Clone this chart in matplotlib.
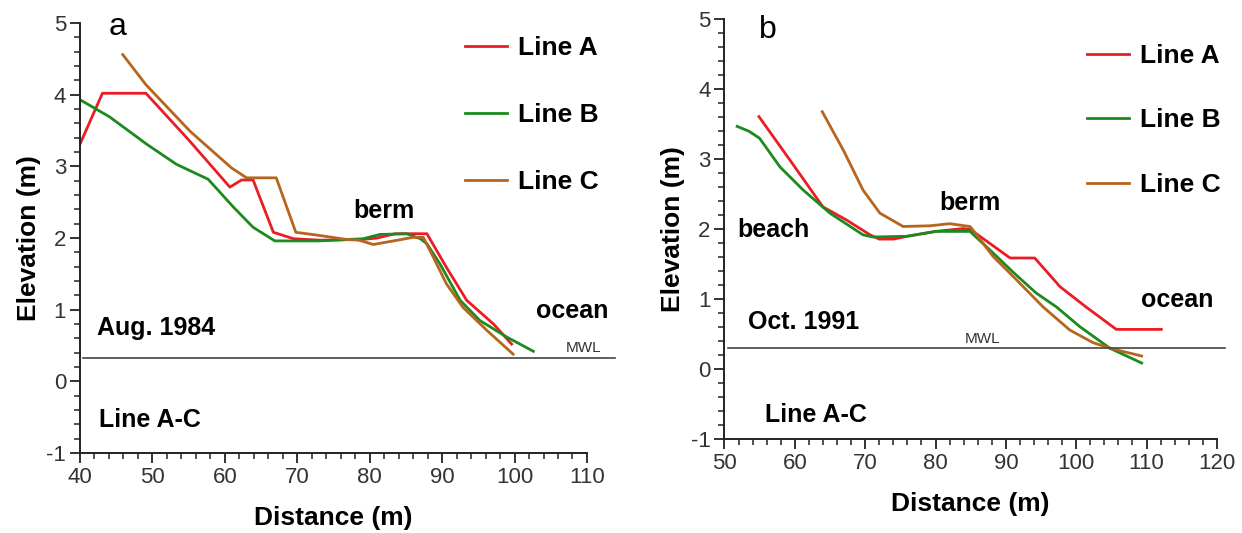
import matplotlib
matplotlib.use("Agg")
import matplotlib.pyplot as plt
from matplotlib.ticker import MultipleLocator

plt.rcParams['font.family'] = ['Liberation Sans', 'DejaVu Sans']
plt.rcParams['axes.unicode_minus'] = False

RED = '#ec1c24'
GREEN = '#1b8a1f'
BROWN = '#b5651d'

# ---- panel a: Aug. 1984 ----
a_line_a_x = [40, 43.1, 49.1, 55, 60.7, 62.3, 63.9, 66.7, 69.5, 73.1, 79, 81, 83.5, 85.6, 87.9, 90.6, 93.4, 97.1, 99.6]
a_line_a_y = [3.31, 4.02, 4.02, 3.37, 2.71, 2.81, 2.81, 2.08, 1.99, 1.97, 1.98, 2.0, 2.06, 2.06, 2.06, 1.59, 1.13, 0.80, 0.52]
a_line_b_x = [40, 44.1, 49.2, 53.3, 57.7, 61.2, 63.9, 66.9, 73, 79.1, 81.4, 85.1, 87.0, 87.9, 89.7, 92.5, 95.2, 98.9, 102.6]
a_line_b_y = [3.93, 3.69, 3.31, 3.03, 2.82, 2.43, 2.15, 1.96, 1.96, 1.99, 2.05, 2.06, 1.99, 1.92, 1.64, 1.13, 0.85, 0.62, 0.42]
a_line_c_x = [45.9, 49.1, 55.2, 60.9, 63.0, 67.1, 69.8, 72.8, 76.8, 78.5, 80.5, 83.3, 86.0, 87.4, 88.8, 90.6, 92.9, 96.2, 99.8]
a_line_c_y = [4.56, 4.14, 3.49, 2.98, 2.84, 2.84, 2.08, 2.04, 1.98, 1.97, 1.91, 1.96, 2.01, 2.01, 1.73, 1.36, 1.03, 0.71, 0.38]

# ---- panel b: Oct. 1991 ----
b_line_a_x = [54.9, 59.3, 64.0, 67.4, 70.7, 72.0, 74.0, 76, 80, 83.9, 84.9, 87.7, 90.6, 94.1, 97.7, 101.4, 105.7, 112.1]
b_line_a_y = [3.61, 2.99, 2.32, 2.13, 1.92, 1.86, 1.86, 1.90, 1.97, 2.01, 2.0, 1.80, 1.59, 1.59, 1.18, 0.89, 0.57, 0.57]
b_line_b_x = [51.8, 53.5, 55.0, 57.9, 61.2, 65.0, 69.7, 71.1, 75.9, 80.1, 84.9, 88.2, 91.0, 94.3, 97.2, 100.5, 104.8, 109.3]
b_line_b_y = [3.47, 3.40, 3.30, 2.89, 2.56, 2.23, 1.92, 1.89, 1.90, 1.97, 1.97, 1.66, 1.39, 1.09, 0.89, 0.61, 0.30, 0.09]
b_line_c_x = [63.9, 66.9, 69.7, 72.1, 75.4, 79.2, 82.0, 84.9, 85.4, 88.2, 91.5, 95.3, 99.1, 102.4, 105.2, 109.3]
b_line_c_y = [3.68, 3.13, 2.56, 2.23, 2.04, 2.05, 2.08, 2.04, 1.98, 1.61, 1.28, 0.89, 0.56, 0.38, 0.29, 0.19]

mwl_a = 0.33
mwl_b = 0.30
labels = ['Line A', 'Line B', 'Line C']


def style_axes(ax, xlim):
    ax.set_xlim(*xlim)
    ax.set_ylim(-1, 5)
    ax.spines['top'].set_visible(False)
    ax.spines['right'].set_visible(False)
    for s in ('left', 'bottom'):
        ax.spines[s].set_linewidth(1.4)
        ax.spines[s].set_color('#222222')
    ax.xaxis.set_major_locator(MultipleLocator(10))
    ax.xaxis.set_minor_locator(MultipleLocator(2))
    ax.yaxis.set_major_locator(MultipleLocator(1))
    ax.yaxis.set_minor_locator(MultipleLocator(0.2))
    ax.tick_params(which='major', length=7, width=1.3, labelsize=16,
                   labelcolor='#333333', color='#222222', pad=3)
    ax.tick_params(which='minor', length=4, width=1.1, color='#222222')
    ax.set_xlabel('Distance (m)', fontsize=19, fontweight='bold', labelpad=13)
    ax.set_ylabel('Elevation (m)', fontsize=19, fontweight='bold', labelpad=4)


def draw_lines(ax, xs, ys):
    for x, y, c, lab in zip(xs, ys, [RED, GREEN, BROWN], labels):
        ax.plot(x, y, color=c, lw=2.0, label=lab, solid_joinstyle='round')


fig = plt.figure(figsize=(12.42, 5.33), dpi=100)
ax1 = fig.add_axes([0.0644, 0.150, 0.4082, 0.8068])
ax2 = fig.add_axes([0.5833, 0.1758, 0.3965, 0.788])

# panel a
draw_lines(ax1, [a_line_a_x, a_line_b_x, a_line_c_x], [a_line_a_y, a_line_b_y, a_line_c_y])
ax1.plot([40.4, 113.9], [mwl_a, mwl_a], color='#444444', lw=1.2, clip_on=False)
style_axes(ax1, (40, 110))
ax1.text(45.2, 4.94, 'a', fontsize=23, ha='center', va='center')
ax1.text(82.0, 2.38, 'berm', fontsize=18, fontweight='bold', ha='center', va='center')
ax1.text(108.0, 0.98, 'ocean', fontsize=18, fontweight='bold', ha='center', va='center')
ax1.text(109.5, 0.37, 'MWL', fontsize=11, ha='center', va='bottom', color='#333333')
ax1.text(42.3, 0.75, 'Aug. 1984', fontsize=18, fontweight='bold', ha='left', va='center')
ax1.text(42.6, -0.54, 'Line A-C', fontsize=18, fontweight='bold', ha='left', va='center')
ax1.legend(loc='upper left', bbox_to_anchor=(0.759, 0.969), frameon=False,
           prop={'size': 19, 'weight': 'bold'}, handlelength=1.6,
           handletextpad=0.4, labelspacing=1.63, borderpad=0, borderaxespad=0)

# panel b
draw_lines(ax2, [b_line_a_x, b_line_b_x, b_line_c_x], [b_line_a_y, b_line_b_y, b_line_c_y])
ax2.plot([50.5, 121.1], [mwl_b, mwl_b], color='#444444', lw=1.2, clip_on=False)
style_axes(ax2, (50, 120))
ax2.text(56.2, 4.85, 'b', fontsize=23, ha='center', va='center')
ax2.text(84.9, 2.38, 'berm', fontsize=18, fontweight='bold', ha='center', va='center')
ax2.text(51.8, 1.99, 'beach', fontsize=18, fontweight='bold', ha='left', va='center')
ax2.text(114.4, 0.99, 'ocean', fontsize=18, fontweight='bold', ha='center', va='center')
ax2.text(86.7, 0.33, 'MWL', fontsize=11, ha='center', va='bottom', color='#333333')
ax2.text(53.3, 0.68, 'Oct. 1991', fontsize=18, fontweight='bold', ha='left', va='center')
ax2.text(55.7, -0.65, 'Line A-C', fontsize=18, fontweight='bold', ha='left', va='center')
ax2.legend(loc='upper left', bbox_to_anchor=(0.736, 0.941), frameon=False,
           prop={'size': 19, 'weight': 'bold'}, handlelength=1.6,
           handletextpad=0.4, labelspacing=1.53, borderpad=0, borderaxespad=0)

plt.savefig('out.png', dpi=100)
